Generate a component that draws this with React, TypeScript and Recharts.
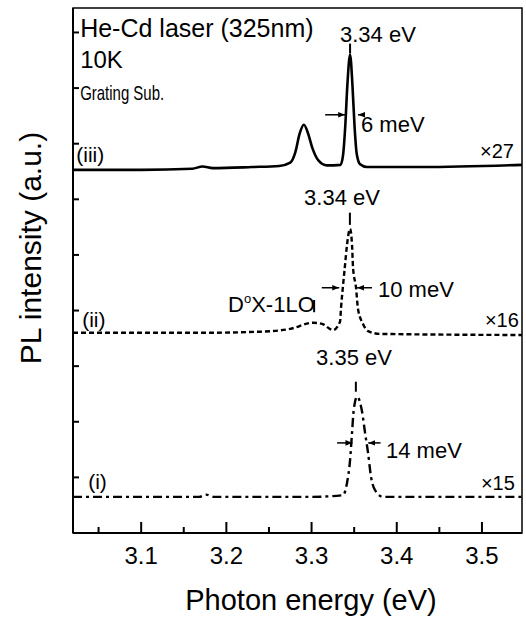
import React from 'react';
import { LineChart, Line, XAxis, YAxis, ReferenceArea, ReferenceLine, ReferenceDot, Label } from 'recharts';

const FONT = '"Liberation Sans", Arial, Helvetica, sans-serif';

// axes
const xDomain = [3.02, 3.547];
const xMajorTicks = [3.1, 3.2, 3.3, 3.4, 3.5];
const xMinorTicks = [3.05, 3.15, 3.25, 3.35, 3.45];
const yTicks = [0, 1, 2, 3, 4, 5, 6, 7, 8, 9];
const yTop = 9.44;

// (iii) grating substrate, solid, x27
const energyIII = [3.02, 3.1, 3.16, 3.172, 3.184, 3.23, 3.262, 3.275, 3.281, 3.286, 3.291, 3.296, 3.301, 3.308, 3.318, 3.334, 3.337, 3.3395, 3.342, 3.3452, 3.348, 3.3505, 3.353, 3.357, 3.365, 3.43, 3.547];
const plIII = [6.53, 6.53, 6.55, 6.59, 6.56, 6.58, 6.6, 6.66, 6.85, 7.18, 7.34, 7.18, 6.92, 6.7, 6.61, 6.62, 6.8, 7.3, 8.05, 8.6, 8.05, 7.3, 6.82, 6.63, 6.58, 6.58, 6.62];

// (ii) dotted, x16
const energyII = [3.02, 3.169, 3.2396, 3.2748, 3.3018, 3.3123, 3.3252, 3.3334, 3.3346, 3.337, 3.3393, 3.3416, 3.3452, 3.3475, 3.3487, 3.3522, 3.3545, 3.3604, 3.3663, 3.3803, 3.547];
const plII = [3.6, 3.6, 3.62, 3.67, 3.78, 3.76, 3.65, 3.8, 4.05, 4.46, 4.82, 5.18, 5.47, 5.18, 4.77, 4.41, 4.03, 3.76, 3.63, 3.58, 3.56];

// (i) dash-dot, x15
const energyI = [3.02, 3.168, 3.176, 3.186, 3.3, 3.3369, 3.3416, 3.3452, 3.3475, 3.3493, 3.3534, 3.3593, 3.3628, 3.3663, 3.3698, 3.3745, 3.3839, 3.547];
const plI = [0.65, 0.65, 0.69, 0.65, 0.65, 0.68, 0.9, 1.31, 1.8, 2.18, 2.45, 2.18, 1.8, 1.44, 1.01, 0.77, 0.65, 0.65];

const toPoints = (es: number[], vs: number[]) => es.map((e, i) => ({ e, v: vs[i] }));

const notes: { e: number; v: number; text: string; size: number; len?: number }[] = [
  { e: 3.0284, v: 8.92, text: 'He-Cd laser (325nm)', size: 25 },
  { e: 3.0284, v: 8.36, text: '10K', size: 24 },
  { e: 3.0284, v: 7.79, text: 'Grating Sub.', size: 21, len: 84 },
  { e: 3.0238, v: 6.67, text: '(iii)', size: 21 },
  { e: 3.3334, v: 8.83, text: '3.34 eV', size: 22 },
  { e: 3.358, v: 7.21, text: '6 meV', size: 22 },
  { e: 3.4977, v: 6.74, text: '×27', size: 20 },
  { e: 3.2912, v: 5.9, text: '3.34 eV', size: 22 },
  { e: 3.378, v: 4.24, text: '10 meV', size: 22 },
  { e: 3.0308, v: 3.71, text: '(ii)', size: 21 },
  { e: 3.5035, v: 3.71, text: '×16', size: 20 },
  { e: 3.3053, v: 3.02, text: '3.35 eV', size: 22 },
  { e: 3.3874, v: 1.35, text: '14 meV', size: 22 },
  { e: 3.0378, v: 0.79, text: '(i)', size: 21 },
  { e: 3.4988, v: 0.77, text: '×15', size: 20 },
];

const markers = [
  [3.3452, 8.8, 3.3452, 8.62],
  [3.345, 5.76, 3.345, 5.54],
  [3.352, 2.72, 3.352, 2.54],
  [3.303, 4.19, 3.303, 3.97],
];

const arrows = [
  [3.316, 7.52, 3.3395, 7.52],
  [3.362, 7.52, 3.3545, 7.52],
  [3.312, 4.41, 3.3325, 4.41],
  [3.371, 4.41, 3.3535, 4.41],
  [3.33, 1.62, 3.348, 1.62],
  [3.381, 1.62, 3.3665, 1.62],
];

const XTick = ({ x, y, payload }: any) => {
  const major = xMajorTicks.includes(payload.value);
  return (
    <g>
      <line x1={x} y1={y} x2={x} y2={y - (major ? 11 : 6)} stroke="#000" strokeWidth={2} />
      {major && (
        <text x={x} y={y + 31} textAnchor="middle" fontSize={24} fontFamily={FONT} fill="#000">
          {payload.value.toFixed(1)}
        </text>
      )}
    </g>
  );
};

const YTick = ({ x, y }: any) => <line x1={x} y1={y} x2={x + 6} y2={y} stroke="#000" strokeWidth={2} />;

export default function App() {
  const xTicks = [...xMajorTicks, ...xMinorTicks].sort((a, b) => a - b);
  return (
    <div style={{ position: 'absolute', left: 0, top: 0, background: '#fff' }}>
      <LineChart width={526} height={619} margin={{ top: 8, right: 4, bottom: 0, left: 8 }}>
        <defs>
          <marker id="arrowHead" viewBox="0 0 10 10" refX="10" refY="5" markerWidth="7" markerHeight="7" orient="auto" markerUnits="userSpaceOnUse">
            <path d="M0,1 L10,5 L0,9 z" fill="#000" />
          </marker>
        </defs>
        <ReferenceArea x1={xDomain[0]} x2={xDomain[1]} y1={0} y2={yTop} fill="none" stroke="#000" strokeWidth={1.5} />
        <XAxis
          dataKey="e"
          type="number"
          domain={xDomain}
          allowDataOverflow
          ticks={xTicks}
          tickSize={0}
          tickMargin={0}
          tickLine={false}
          tick={<XTick />}
          height={86}
          axisLine={{ stroke: '#000', strokeWidth: 2 }}
        >
          <Label
            content={() => (
              <text x={311} y={610} textAnchor="middle" fontSize={29} fontFamily={FONT} fill="#000">
                Photon energy (eV)
              </text>
            )}
          />
        </XAxis>
        <YAxis
          type="number"
          domain={[0, yTop]}
          allowDataOverflow
          ticks={yTicks}
          tickSize={0}
          tickMargin={0}
          tickLine={false}
          tick={<YTick />}
          width={65}
          axisLine={{ stroke: '#000', strokeWidth: 2 }}
        >
          <Label
            content={() => (
              <text transform="rotate(-90)" x={-248} y={41} textAnchor="middle" fontSize={30} fontFamily={FONT} fill="#000">
                PL intensity (a.u.)
              </text>
            )}
          />
        </YAxis>
        <Line data={toPoints(energyIII, plIII)} dataKey="v" type="monotone" stroke="#000" strokeWidth={2.6} dot={false} activeDot={false} isAnimationActive={false} />
        <Line data={toPoints(energyII, plII)} dataKey="v" type="monotone" stroke="#000" strokeWidth={2.4} strokeDasharray="5 3" dot={false} activeDot={false} isAnimationActive={false} />
        <Line data={toPoints(energyI, plI)} dataKey="v" type="monotone" stroke="#000" strokeWidth={2.4} strokeDasharray="9 4 3 4" dot={false} activeDot={false} isAnimationActive={false} />
        {markers.map((m, i) => (
          <ReferenceLine key={'m' + i} segment={[{ x: m[0], y: m[1] }, { x: m[2], y: m[3] }]} stroke="#000" strokeWidth={2} />
        ))}
        {arrows.map((a, i) => (
          <ReferenceLine key={'a' + i} segment={[{ x: a[0], y: a[1] }, { x: a[2], y: a[3] }]} stroke="#000" strokeWidth={1.5} markerEnd="url(#arrowHead)" />
        ))}
        {notes.map((n, i) => (
          <ReferenceDot
            key={'n' + i}
            x={n.e}
            y={n.v}
            r={0}
            shape={(p: any) => (
              <text
                x={p.cx}
                y={p.cy}
                fontSize={n.size}
                fontFamily={FONT}
                fill="#000"
                textLength={n.len}
                lengthAdjust={n.len ? 'spacingAndGlyphs' : undefined}
              >
                {n.text}
              </text>
            )}
          />
        ))}
        <ReferenceDot
          x={3.202}
          y={3.97}
          r={0}
          shape={(p: any) => (
            <text x={p.cx} y={p.cy} fontSize={22} fontFamily={FONT} fill="#000">
              D<tspan fontSize={13} dy={-9}>o</tspan>
              <tspan dy={9}>X-1LO</tspan>
            </text>
          )}
        />
      </LineChart>
    </div>
  );
}
